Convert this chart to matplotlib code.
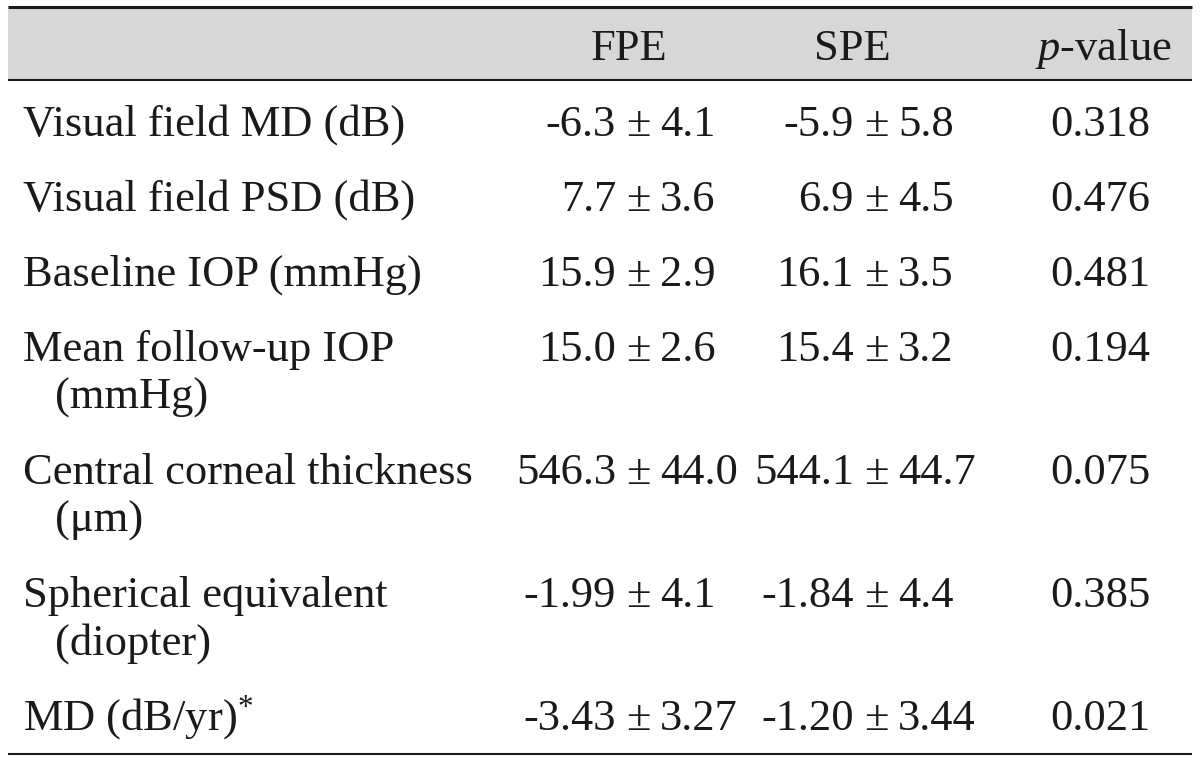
import matplotlib
matplotlib.use("Agg")
import matplotlib.pyplot as plt

# table contents
row_labels = [
    ["Visual field MD (dB)"],
    ["Visual field PSD (dB)"],
    ["Baseline IOP (mmHg)"],
    ["Mean follow-up IOP", "(mmHg)"],
    ["Central corneal thickness", "(\u03bcm)"],
    ["Spherical equivalent", "(diopter)"],
    ["MD (dB/yr)$^{*}$"],
]
col_headers = ["FPE", "SPE", "$p$-value"]

fpe_mean = ["-6.3", "7.7", "15.9", "15.0", "546.3", "-1.99", "-3.43"]
fpe_sd = ["4.1", "3.6", "2.9", "2.6", "44.0", "4.1", "3.27"]
spe_mean = ["-5.9", "6.9", "16.1", "15.4", "544.1", "-1.84", "-1.20"]
spe_sd = ["5.8", "4.5", "3.5", "3.2", "44.7", "4.4", "3.44"]
p_values = ["0.318", "0.476", "0.481", "0.194", "0.075", "0.385", "0.021"]

plt.rcParams["font.family"] = ["Liberation Serif", "DejaVu Serif"]
plt.rcParams["mathtext.fontset"] = "custom"
plt.rcParams["mathtext.rm"] = "Liberation Serif"
plt.rcParams["mathtext.it"] = "Liberation Serif:italic"

W, H = 1200, 760
fig = plt.figure(figsize=(W / 100, H / 100), dpi=100)
ax = fig.add_axes([0, 0, 1, 1])
ax.set_xlim(0, W)
ax.set_ylim(H, 0)
ax.axis("off")

fs = 32
ink = "#1a1a1a"

# layout (pixels)
left, right = 8, 1192
head_top, head_bot = 7, 80
head_base = 60
first_base = 136
pitch, wrap = 75, 48
label_x, indent = 23, 55
pm_x = [638, 876]          # x of the plus-minus sign in FPE / SPE columns
gap = 22
p_x = 1100

# header band and rules
ax.fill_between([left, right], head_top, head_bot, color="#d7d7d7", lw=0, zorder=0)
ax.plot([left, right], [head_top, head_top], color=ink, lw=2.2, solid_capstyle="butt")
ax.plot([left, right], [head_bot, head_bot], color=ink, lw=1.5, solid_capstyle="butt")

for cx, h in zip([pm_x[0] - 9, pm_x[1] - 24, p_x + 3], col_headers):
    ax.text(cx, head_base, h, fontsize=fs, color=ink, ha="center", va="baseline")

y = first_base
for i, lines in enumerate(row_labels):
    for j, ln in enumerate(lines):
        ax.text(label_x if j == 0 else indent, y + j * wrap, ln, fontsize=fs,
                color=ink, ha="left", va="baseline")
    for px, means, sds in ((pm_x[0], fpe_mean, fpe_sd), (pm_x[1], spe_mean, spe_sd)):
        ax.text(px - gap, y, means[i], fontsize=fs, color=ink, ha="right", va="baseline")
        ax.text(px, y, "\u00b1", fontsize=fs, color=ink, ha="center", va="baseline")
        ax.text(px + gap, y, sds[i], fontsize=fs, color=ink, ha="left", va="baseline")
    ax.text(p_x, y, p_values[i], fontsize=fs, color=ink, ha="center", va="baseline")
    y += pitch + wrap * (len(lines) - 1)

bottom = y - pitch + 24
ax.plot([left, right], [bottom, bottom], color=ink, lw=1.5, solid_capstyle="butt")

fig.savefig("out.png", dpi=100, facecolor="white")
